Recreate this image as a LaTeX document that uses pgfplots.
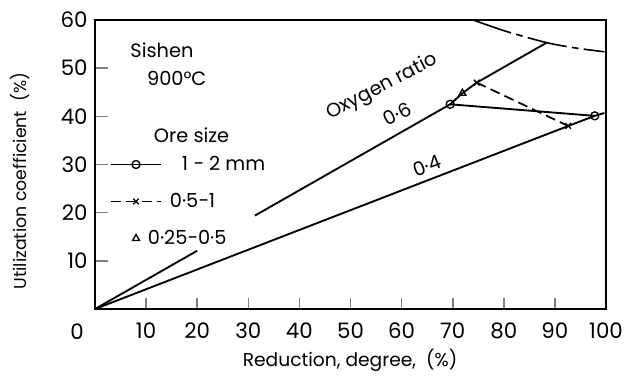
\documentclass[border=0pt]{standalone}
\usepackage{pgfplots}
\pgfplotsset{compat=1.18}
\usepackage{fontspec}
\setmainfont{Poppins}
\pgfplotsset{tri legend/.style={legend image code/.code={\draw[##1] plot coordinates {(18.75pt,0pt)};}}}
\newcommand{\tf}{\fontsize{14.5}{16}\selectfont}
\begin{document}
\begin{tikzpicture}
\path[use as bounding box] (-71.25pt,-50.25pt) rectangle (396.75pt,231.75pt);
\begin{axis}[
  at={(0pt,0pt)}, anchor=south west,
  scale only axis, width=383.25pt, height=216.75pt,
  xmin=0, xmax=100, ymin=0, ymax=60,
  axis line style={line width=1.3pt},
  tick align=inside,
  xtick pos=bottom, ytick pos=left,
  xtick={10,20,...,100}, ytick={10,20,...,60},
  xtick style={line width=1.2pt, /pgfplots/major tick length=8.25pt},
  ytick style={line width=1.2pt, /pgfplots/major tick length=9.75pt},
  /pgf/number format/assume math mode=true,
  tick label style={font=\fontsize{16}{18}\selectfont},
  xticklabel style={yshift=-6.5pt},
  yticklabel style={xshift=-2pt},
  clip=false,
  legend style={at={(axis cs:2.9,32.2)}, anchor=north west, draw=none, fill=none,
    inner sep=0pt, row sep=12.25pt, font=\tf,
    cells={anchor=west, inner sep=2pt, text height=10pt, text depth=3pt}},
  legend image code/.code={\draw[mark repeat=2,mark phase=2,#1] plot coordinates {(0pt,0pt)(18.75pt,0pt)(37.5pt,0pt)};},
]
% Oxygen ratio 0.6
\addplot[black, line width=1.4pt, forget plot] coordinates {(0,0) (20,12.1)};
\addplot[black, line width=1.4pt, forget plot] coordinates {(31.3,19.4) (69.5,42.5) (71.9,44.8) (74.7,47.0) (88.4,55.3)};
% Oxygen ratio 0.4
\addplot[black, line width=1.4pt, forget plot] coordinates {(0,0) (92.6,38.0) (97.8,40.1) (99.7,40.7)};
% limit curve (dash-dot)
\addplot[black, line width=1.2pt, smooth, dash pattern=on 30pt off 4pt on 5pt off 4pt, forget plot] coordinates {(74.0,60.0) (80.6,57.6) (88.4,55.3) (94,54.2) (99.7,53.4)};
% Ore size 1-2 mm
\addplot[black, line width=1.4pt, mark=o, mark size=3pt, mark options={solid, fill=white, line width=1pt}] coordinates {(69.5,42.5) (97.8,40.1)};
\addlegendentry{\hspace{13pt}1 {\char"2212} 2 mm}
% Ore size 0.5-1
\addplot[black, line width=1.3pt, dash pattern=on 7.5pt off 4pt, mark=x, mark size=3pt, mark options={solid, line width=1pt}] coordinates {(74.7,47.0) (92.6,38.0)};
\addlegendentry{\hspace{4pt}0·5{\char"2212}1}
% Ore size 0.25-0.5
\addplot[black, only marks, mark=triangle, mark size=3pt, mark options={solid, fill=white, line width=1pt}, tri legend] coordinates {(71.9,44.8)};
\addlegendentry{\hspace{-12.5pt}0·25{\char"2212}0·5}
% texts
\node[font=\tf] at (axis cs:13.1,53.8) {Sishen};
\node[font=\tf] at (axis cs:16.0,47.9) {900°C};
\node[font=\tf] at (axis cs:18.9,36.1) {Ore size};
\node[font=\tf, rotate=27.5] at (axis cs:56.2,46.1) {Oxygen ratio};
\node[font=\tf, rotate=27] at (axis cs:59.1,40.5) {0·6};
\node[font=\tf, rotate=21] at (axis cs:65.0,29.7) {0·4};
\node[font=\fontsize{16}{18}\selectfont] at (axis cs:-3.5,-4.8) {0};
\end{axis}
\node[font=\fontsize{13}{15}\selectfont, rotate=90] at (-56.25pt,96pt) {Utilization coefficient\ \ (\%)};
\node[font=\fontsize{14}{16}\selectfont] at (191.25pt,-38.25pt) {Reduction, degree,\ \ (\%)};
\end{tikzpicture}
\end{document}
